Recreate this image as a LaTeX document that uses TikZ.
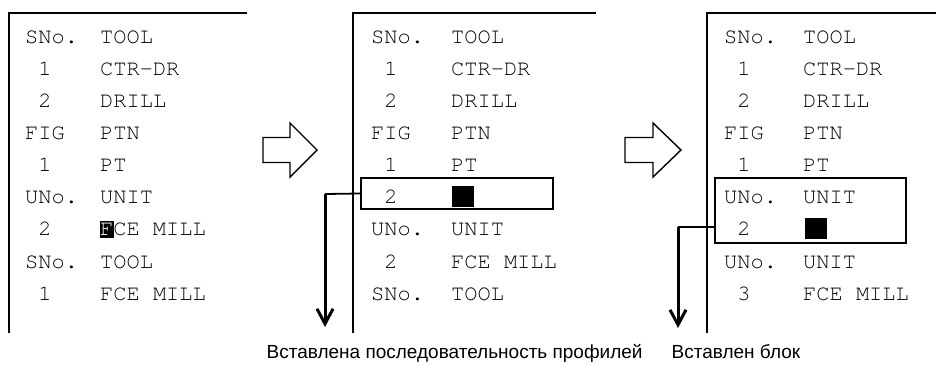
\documentclass[tikz,border=0pt]{standalone}
\usepackage{fontspec}
\setmainfont{Liberation Sans}
\newfontfamily\cour{texgyrecursor}[Extension=.otf,UprightFont=*-regular]
\usetikzlibrary{arrows.meta}
\newcommand\ind[1]{\hphantom{0}#1}
\tikzset{
  cell/.style={anchor=base west, inner sep=0pt, font=\cour\fontsize{22}{26}\selectfont},
  caption/.style={anchor=base west, inner sep=0pt, font=\fontsize{19}{23}\selectfont},
  panel/.style={line width=2pt},
  insbox/.style={draw, rectangle, line width=1.8pt, inner sep=0pt},
  cursor/.style={fill=black, rectangle, inner sep=0pt},
  hollow/.style={draw, line width=1.4pt, line join=miter},
  link/.style={line width=1.8pt},
  shaft/.style={line width=3pt, -{Straight Barb[length=15pt,width=16pt]}}
}
\begin{document}
\begin{tikzpicture}[x=1pt,y=-1pt]
\useasboundingbox (0,0) rectangle (936,365);

% screen frames
\draw[panel] (9,333) -- (9,13) -- (247,13);
\draw[panel] (353,333) -- (353,13) -- (596,13);
\draw[panel] (707,333) -- (707,13) -- (936,13);

% first screen
\foreach \k/\a/\b in {0/SNo./TOOL, 1/{\ind1}/CTR-DR, 2/{\ind2}/DRILL, 3/FIG/PTN,
    4/{\ind1}/PT, 5/UNo./UNIT, 7/SNo./TOOL, 8/{\ind1}/FCE MILL}{
  \node[cell] (pa\k) at (25,{43+32.15*\k}) {\a};
  \node[cell] (pb\k) at (100,{43+32.15*\k}) {\b};
}
\node[cell] (pa6) at (25,{43+32.15*6}) {\ind2};
\node[cursor, minimum width=14pt, minimum height=17pt] (cur1) at (107,229.5) {};
\node[cell] (pb6) at (100,{43+32.15*6}) {{\color{white}F}CE MILL};

% second screen
\foreach \k/\a/\b in {0/SNo./TOOL, 1/{\ind1}/CTR-DR, 2/{\ind2}/DRILL, 3/FIG/PTN,
    4/{\ind1}/PT, 6/UNo./UNIT, 7/{\ind2}/FCE MILL, 8/SNo./TOOL}{
  \node[cell] (qa\k) at (371,{43+32.15*\k}) {\a};
  \node[cell] (qb\k) at (451,{43+32.15*\k}) {\b};
}
\node[cell] (qa5) at (371,{43+32.15*5}) {\ind2};
\node[cursor, minimum width=22pt, minimum height=21pt] (cur2) at (463,196.5) {};
\node[insbox, minimum width=192pt, minimum height=31pt] (ins2) at (457,193.5) {};

% third screen
\foreach \k/\a/\b in {0/SNo./TOOL, 1/{\ind1}/CTR-DR, 2/{\ind2}/DRILL, 3/FIG/PTN,
    4/{\ind1}/PT, 5/UNo./UNIT, 7/UNo./UNIT, 8/{\ind3}/FCE MILL}{
  \node[cell] (ra\k) at (724,{43+32.15*\k}) {\a};
  \node[cell] (rb\k) at (803,{43+32.15*\k}) {\b};
}
\node[cell] (ra6) at (724,{43+32.15*6}) {\ind2};
\node[cursor, minimum width=22pt, minimum height=21pt] (cur3) at (816,228.5) {};
\node[insbox, minimum width=191pt, minimum height=65pt] (ins3) at (810.5,210.5) {};

% hollow transition arrows between the screens
\draw[hollow] (263,137.5) -- (290,137.5) -- (290,123) -- (317,150)
  -- (290,177) -- (290,162.5) -- (263,162.5) -- cycle;
\draw[hollow] (625,137.5) -- (653,137.5) -- (653,123) -- (681,150)
  -- (653,177) -- (653,162.5) -- (625,162.5) -- cycle;

% callouts
\coordinate (bend2) at (325,194);
\coordinate (tip2) at (325,327);
\draw[link] (ins2.west) -- (bend2);
\draw[shaft] (bend2) -- (tip2);

\coordinate (bend3) at (678,227);
\coordinate (tip3) at (678,328);
\draw[link] (ins3.west |- bend3) -- (bend3);
\draw[shaft] (bend3) -- (tip3);

\node[caption] (cap1) at (266.5,358) {Вставлена последовательность профилей};
\node[caption] (cap2) at (671.5,358) {Вставлен блок};
\end{tikzpicture}
\end{document}
